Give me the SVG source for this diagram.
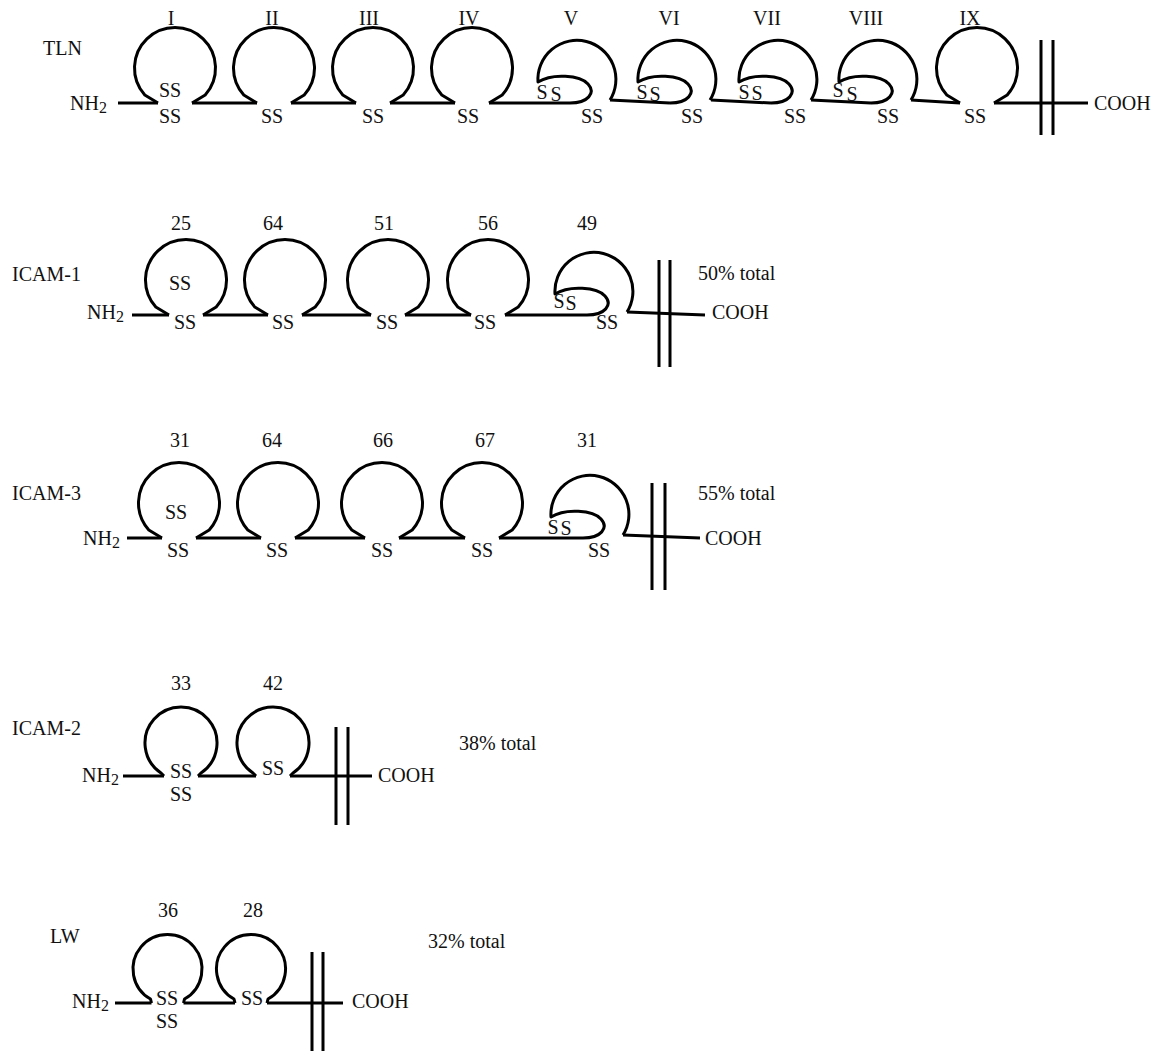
<svg xmlns="http://www.w3.org/2000/svg" width="1162" height="1051" viewBox="0 0 1162 1051">
<style>
  .ln{fill:none;stroke:#000;stroke-width:3;stroke-linejoin:round;stroke-linecap:butt}
  text{font-family:"Liberation Serif","Times New Roman",serif;font-size:20px;fill:#111}
  .m{text-anchor:middle}
</style>
<defs>
  <path id="loop" class="ln" d="M-17,0 L-30.2,-8 A40.5,40.5 0 1 1 30.2,-8 L17,0"/>
  <path id="spiral" class="ln" d="M0,0 C18,0 26,-10 18,-19 C10,-28 -18,-30 -32,-21 A39,39 0 1 1 40,-3"/>
  <path id="small" class="ln" d="M-17,0 L-20,-3 A36,36 0 1 1 20,-3 L17,0"/>
  <path id="smallw" class="ln" d="M-16,0 L-17,-4 A34.5,34.5 0 1 1 17,-4 L16,0"/>
</defs>
<rect width="1162" height="1051" fill="#fff"/>

<!-- ===================== TLN ===================== -->
<g id="tln-label"><text x="43" y="55">TLN</text></g>
<g id="tln-nh2"><text x="70" y="110">NH<tspan font-size="16" dy="3">2</tspan></text></g>
<g id="tln-I"><use href="#loop" x="175" y="103"/><text class="m" x="171" y="25">I</text><text class="m" x="170" y="97">SS</text><text class="m" x="170" y="123">SS</text></g>
<g id="tln-II"><use href="#loop" x="274" y="103"/><text class="m" x="272" y="25">II</text><text class="m" x="272" y="123">SS</text></g>
<g id="tln-III"><use href="#loop" x="373" y="103"/><text class="m" x="369" y="25">III</text><text class="m" x="373" y="123">SS</text></g>
<g id="tln-IV"><use href="#loop" x="472" y="103"/><text class="m" x="469" y="25">IV</text><text class="m" x="468" y="123">SS</text></g>
<g id="tln-V"><use href="#spiral" x="570" y="103"/><text class="m" x="571" y="25">V</text><text class="m" x="542" y="99">S</text><text class="m" x="556" y="101">S</text><text class="m" x="592" y="123">SS</text></g>
<g id="tln-VI"><use href="#spiral" x="670" y="103"/><text class="m" x="669" y="25">VI</text><text class="m" x="642" y="99">S</text><text class="m" x="655" y="101">S</text><text class="m" x="692" y="123">SS</text></g>
<g id="tln-VII"><use href="#spiral" x="771" y="103"/><text class="m" x="767" y="25">VII</text><text class="m" x="744" y="99">S</text><text class="m" x="757" y="100">S</text><text class="m" x="795" y="123">SS</text></g>
<g id="tln-VIII"><use href="#spiral" x="871" y="103"/><text class="m" x="866" y="25">VIII</text><text class="m" x="838" y="97">S</text><text class="m" x="852" y="101">S</text><text class="m" x="888" y="123">SS</text></g>
<g id="tln-IX"><use href="#loop" x="977" y="103"/><text class="m" x="970" y="25">IX</text><text class="m" x="975" y="123">SS</text></g>
<g id="tln-membrane"><path class="ln" d="M1041,40 V135 M1053,40 V135"/></g>
<g id="tln-cooh"><text x="1094" y="110">COOH</text></g>

<!-- ===================== ICAM-1 ===================== -->
<g id="icam1-label"><text x="12" y="281">ICAM-1</text></g>
<g id="icam1-nh2"><text x="87" y="319">NH<tspan font-size="16" dy="3">2</tspan></text></g>
<g id="icam1-d1"><use href="#loop" x="186" y="315"/><text class="m" x="181" y="230">25</text><text class="m" x="180" y="290">SS</text><text class="m" x="185" y="329">SS</text></g>
<g id="icam1-d2"><use href="#loop" x="285" y="315"/><text class="m" x="273" y="230">64</text><text class="m" x="283" y="329">SS</text></g>
<g id="icam1-d3"><use href="#loop" x="388" y="315"/><text class="m" x="384" y="230">51</text><text class="m" x="387" y="329">SS</text></g>
<g id="icam1-d4"><use href="#loop" x="488" y="315"/><text class="m" x="488" y="230">56</text><text class="m" x="485" y="329">SS</text></g>
<g id="icam1-d5"><use href="#spiral" x="587" y="315"/><text class="m" x="587" y="230">49</text><text class="m" x="559" y="308">S</text><text class="m" x="571" y="310">S</text><text class="m" x="607" y="329">SS</text></g>
<g id="icam1-membrane"><path class="ln" d="M659,260 V367 M670,260 V367"/></g>
<g id="icam1-total"><text x="698" y="280">50% total</text></g>
<g id="icam1-cooh"><text x="712" y="319">COOH</text></g>

<!-- ===================== ICAM-3 ===================== -->
<g id="icam3-label"><text x="12" y="500">ICAM-3</text></g>
<g id="icam3-nh2"><text x="83" y="545">NH<tspan font-size="16" dy="3">2</tspan></text></g>
<g id="icam3-d1"><use href="#loop" x="179" y="538"/><text class="m" x="180" y="447">31</text><text class="m" x="176" y="519">SS</text><text class="m" x="178" y="557">SS</text></g>
<g id="icam3-d2"><use href="#loop" x="278" y="538"/><text class="m" x="272" y="447">64</text><text class="m" x="277" y="557">SS</text></g>
<g id="icam3-d3"><use href="#loop" x="382" y="538"/><text class="m" x="383" y="447">66</text><text class="m" x="382" y="557">SS</text></g>
<g id="icam3-d4"><use href="#loop" x="482" y="538"/><text class="m" x="485" y="447">67</text><text class="m" x="482" y="557">SS</text></g>
<g id="icam3-d5"><use href="#spiral" x="583" y="538"/><text class="m" x="587" y="447">31</text><text class="m" x="553" y="534">S</text><text class="m" x="566" y="535">S</text><text class="m" x="599" y="557">SS</text></g>
<g id="icam3-membrane"><path class="ln" d="M652,483 V590 M665,483 V590"/></g>
<g id="icam3-total"><text x="698" y="500">55% total</text></g>
<g id="icam3-cooh"><text x="705" y="545">COOH</text></g>

<!-- ===================== ICAM-2 ===================== -->
<g id="icam2-label"><text x="12" y="735">ICAM-2</text></g>
<g id="icam2-nh2"><text x="82" y="782">NH<tspan font-size="16" dy="3">2</tspan></text></g>
<g id="icam2-d1"><use href="#small" x="181" y="776"/><text class="m" x="181" y="690">33</text><text class="m" x="181" y="778">SS</text><text class="m" x="181" y="801">SS</text></g>
<g id="icam2-d2"><use href="#small" x="273" y="776"/><text class="m" x="273" y="690">42</text><text class="m" x="273" y="775">SS</text></g>
<g id="icam2-membrane"><path class="ln" d="M336,727 V825 M348,727 V825"/></g>
<g id="icam2-total"><text x="459" y="750">38% total</text></g>
<g id="icam2-cooh"><text x="378" y="782">COOH</text></g>

<!-- ===================== LW ===================== -->
<g id="lw-label"><text x="50" y="943">LW</text></g>
<g id="lw-nh2"><text x="72" y="1008">NH<tspan font-size="16" dy="3">2</tspan></text></g>
<g id="lw-d1"><use href="#smallw" x="167.5" y="1003"/><text class="m" x="168" y="917">36</text><text class="m" x="167" y="1005">SS</text><text class="m" x="167" y="1028">SS</text></g>
<g id="lw-d2"><use href="#smallw" x="251" y="1003"/><text class="m" x="253" y="917">28</text><text class="m" x="252" y="1005">SS</text></g>
<g id="lw-membrane"><path class="ln" d="M312,952 V1051 M323,952 V1051"/></g>
<g id="lw-total"><text x="428" y="948">32% total</text></g>
<g id="lw-cooh"><text x="352" y="1008">COOH</text></g>

<!-- ===================== backbone connectors ===================== -->
<g id="connectors" class="ln">
  <path d="M118,103 H158 M192,103 H257 M291,103 H356 M390,103 H455 M489,103 H570 M610,100 L670,103 M711,100 L771,103 M811,100 L871,103 M911,100 L960,103 M994,103 H1088"/>
  <path d="M132,315 H169 M203,315 H268 M302,315 H371 M405,315 H471 M505,315 H587 M627,312 L705,315"/>
  <path d="M127,538 H162 M196,538 H261 M295,538 H365 M399,538 H465 M499,538 H583 M623,535 L700,538"/>
  <path d="M123,776 H164 M198,776 H256 M290,776 H372"/>
  <path d="M115,1003 H151.5 M183.5,1003 H235 M267,1003 H343"/>
</g>
</svg>
